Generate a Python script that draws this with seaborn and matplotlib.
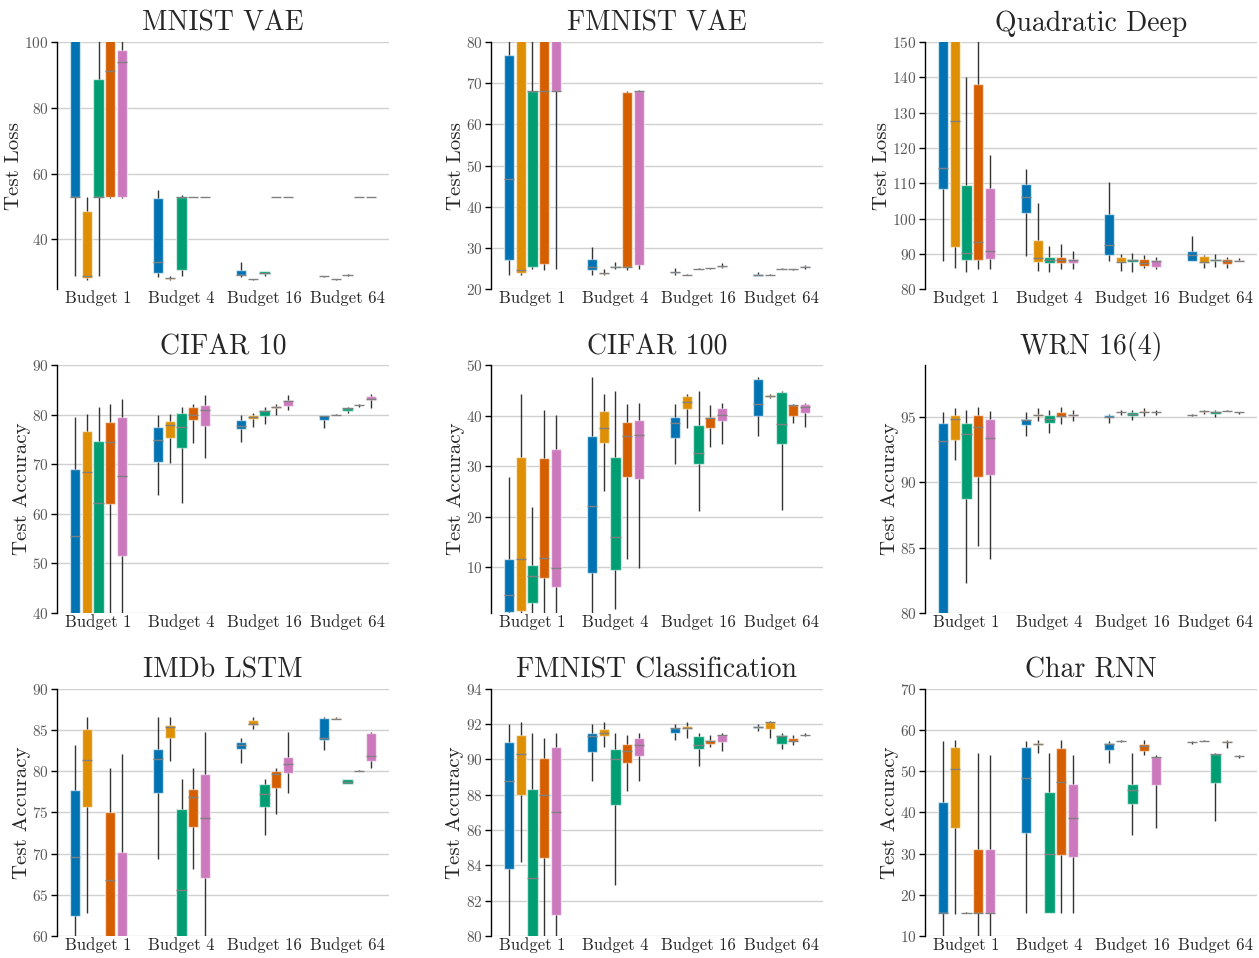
import matplotlib
matplotlib.use("Agg")
import matplotlib.pyplot as plt
import numpy as np
import pandas as pd
import seaborn as sns

budgets = ["Budget 1", "Budget 4", "Budget 16", "Budget 64"]
methods = ["m1", "m2", "m3", "m4", "m5"]
palette = ["#0173b2", "#de8f05", "#029e73", "#d55e00", "#cc78bc"]

# five-number summaries [min, q1, median, q3, max], budget-major then method
mnist_vae = [
    [28.8, 53.0, 53.0, 130.0, 140.0], [27.6, 28.3, 28.8, 48.6, 53.0],
    [28.8, 53.0, 53.0, 88.8, 110.0], [52.6, 53.0, 91.2, 120.0, 130.0],
    [52.6, 53.0, 93.9, 97.7, 110.0],
    [28.6, 29.8, 33.2, 52.6, 55.0], [27.6, 28.0, 28.1, 28.2, 28.9],
    [28.8, 30.5, 52.8, 52.8, 53.5], [52.9, 52.9, 52.9, 52.9, 52.9],
    [52.9, 52.9, 52.9, 52.9, 52.9],
    [28.4, 29.0, 29.2, 30.7, 33.2], [27.7, 27.8, 27.8, 27.8, 27.9],
    [28.8, 29.4, 29.8, 30.2, 30.4], [52.9, 52.9, 52.9, 52.9, 52.9],
    [52.9, 52.9, 52.9, 52.9, 52.9],
    [28.5, 28.7, 28.7, 28.8, 28.9], [27.7, 27.8, 27.8, 27.8, 27.9],
    [28.9, 29.0, 29.1, 29.2, 29.4], [52.9, 52.9, 52.9, 52.9, 52.9],
    [52.9, 52.9, 52.9, 52.9, 52.9],
]
fmnist_vae = [
    [23.4, 27.0, 46.7, 76.8, 85.0], [23.4, 24.0, 24.6, 85.0, 90.0],
    [24.9, 25.5, 68.0, 68.2, 85.0], [24.7, 26.2, 68.2, 85.0, 90.0],
    [25.0, 68.2, 68.2, 85.0, 90.0],
    [23.4, 24.7, 25.3, 27.3, 30.2], [23.4, 23.7, 23.9, 24.0, 24.9],
    [25.0, 25.3, 25.5, 25.7, 26.7], [24.7, 25.4, 25.5, 67.9, 68.2],
    [25.0, 25.9, 68.0, 68.2, 68.3],
    [23.4, 23.9, 24.1, 24.3, 25.1], [23.4, 23.5, 23.5, 23.5, 23.6],
    [24.9, 25.0, 25.0, 25.0, 25.1], [25.0, 25.1, 25.1, 25.1, 25.2],
    [25.1, 25.4, 25.6, 25.7, 26.3],
    [23.2, 23.3, 23.5, 23.7, 24.2], [23.4, 23.5, 23.5, 23.5, 23.6],
    [24.8, 24.9, 24.9, 24.9, 25.1], [24.7, 24.8, 24.8, 24.8, 24.9],
    [25.0, 25.3, 25.4, 25.6, 25.8],
]
quadratic_deep = [
    [87.9, 108.5, 114.3, 160.0, 170.0], [86.0, 92.0, 127.6, 160.0, 170.0],
    [85.0, 88.3, 90.2, 109.5, 140.1], [85.7, 88.3, 93.3, 138.2, 155.0],
    [85.7, 88.5, 90.8, 108.7, 118.1],
    [89.5, 101.6, 106.2, 109.9, 114.0], [85.3, 87.7, 88.8, 94.0, 104.3],
    [85.0, 87.4, 88.3, 89.2, 92.1], [85.7, 87.4, 88.3, 89.2, 92.8],
    [85.7, 87.5, 88.2, 88.7, 90.9],
    [87.9, 89.8, 92.4, 101.2, 110.3], [85.3, 87.6, 87.7, 89.0, 90.0],
    [85.0, 87.6, 88.3, 88.7, 90.2], [86.0, 86.7, 87.4, 88.5, 89.6],
    [85.7, 86.4, 88.1, 88.3, 89.1],
    [87.9, 88.1, 89.8, 90.7, 95.0], [86.0, 87.4, 87.6, 89.5, 89.8],
    [86.4, 88.0, 88.3, 88.7, 90.0], [86.0, 87.2, 87.9, 88.5, 89.1],
    [87.9, 88.0, 88.1, 88.2, 88.8],
]
cifar10 = [
    [30.0, 35.0, 55.4, 69.1, 79.5], [30.0, 35.0, 68.4, 76.7, 80.1],
    [30.0, 35.0, 62.2, 74.8, 81.5], [30.0, 62.0, 74.6, 78.6, 82.2],
    [30.0, 51.5, 67.6, 79.5, 83.3],
    [63.7, 70.5, 75.0, 77.5, 80.0], [70.3, 75.4, 77.9, 78.7, 80.1],
    [62.1, 73.3, 77.5, 80.4, 81.5], [74.4, 78.9, 80.0, 81.5, 82.2],
    [71.2, 77.7, 80.9, 82.0, 84.1],
    [74.6, 77.1, 77.7, 78.9, 80.0], [77.5, 79.2, 79.6, 80.0, 80.3],
    [78.2, 79.8, 80.7, 81.0, 81.5], [80.0, 81.3, 81.6, 81.8, 82.2],
    [81.0, 81.8, 82.7, 82.9, 84.1],
    [77.4, 79.0, 79.8, 79.9, 80.0], [79.9, 80.0, 80.0, 80.0, 80.1],
    [80.4, 80.8, 81.3, 81.4, 81.5], [81.5, 81.9, 81.9, 81.9, 82.2],
    [81.4, 82.9, 83.3, 83.9, 84.2],
]
cifar100 = [
    [0.5, 1.2, 4.4, 11.7, 27.9], [0.5, 1.4, 11.7, 31.8, 44.4],
    [0.5, 3.0, 8.3, 10.5, 21.9], [0.5, 7.8, 11.8, 31.7, 41.2],
    [0.5, 6.0, 9.8, 33.5, 40.1],
    [0.5, 8.8, 22.2, 36.1, 47.6], [25.1, 34.6, 37.6, 41.0, 44.4],
    [1.7, 9.4, 15.9, 31.8, 45.0], [11.7, 27.8, 36.0, 38.8, 42.3],
    [9.8, 27.5, 36.3, 39.2, 42.5],
    [30.5, 35.7, 38.5, 39.8, 42.4], [37.6, 41.3, 42.7, 43.9, 44.4],
    [21.2, 30.4, 32.6, 38.2, 45.0], [33.9, 37.5, 39.5, 39.8, 42.2],
    [34.4, 38.9, 40.1, 41.6, 42.5],
    [36.1, 40.0, 42.4, 47.4, 47.6], [43.6, 43.8, 44.0, 44.1, 44.4],
    [21.3, 34.5, 38.4, 44.8, 45.0], [38.6, 39.9, 42.1, 42.1, 42.3],
    [37.8, 40.5, 41.7, 42.4, 42.5],
]
wrn_16_4 = [
    [70.0, 75.0, 93.2, 94.6, 95.4], [91.7, 93.3, 94.9, 95.2, 95.7],
    [82.3, 88.7, 93.7, 94.6, 95.6], [85.1, 90.4, 94.3, 95.2, 95.8],
    [84.1, 90.6, 93.4, 94.9, 95.5],
    [93.6, 94.4, 94.8, 94.9, 95.4], [94.7, 95.1, 95.2, 95.3, 95.7],
    [93.8, 94.6, 94.9, 95.2, 95.6], [94.5, 95.0, 95.1, 95.4, 95.8],
    [94.7, 95.1, 95.2, 95.3, 95.6],
    [94.6, 95.0, 95.05, 95.2, 95.3], [95.2, 95.4, 95.4, 95.4, 95.6],
    [94.8, 95.1, 95.3, 95.4, 95.6], [95.1, 95.4, 95.45, 95.5, 95.7],
    [95.2, 95.4, 95.4, 95.4, 95.6],
    [95.1, 95.2, 95.2, 95.2, 95.25], [95.3, 95.4, 95.5, 95.5, 95.55],
    [95.0, 95.3, 95.4, 95.5, 95.6], [95.5, 95.5, 95.5, 95.5, 95.55],
    [95.3, 95.4, 95.4, 95.4, 95.45],
]
imdb_lstm = [
    [55.0, 62.4, 69.6, 77.7, 83.2], [62.8, 75.6, 81.4, 85.1, 86.6],
    [50.0, 52.0, 54.0, 56.0, 58.0], [50.0, 55.0, 66.8, 75.0, 80.4],
    [50.0, 55.0, 58.0, 70.2, 82.1],
    [69.4, 77.3, 81.5, 82.7, 86.6], [81.2, 84.0, 85.4, 85.6, 86.6],
    [50.0, 55.0, 65.6, 75.4, 79.1], [68.1, 73.2, 76.9, 77.8, 80.4],
    [58.0, 67.0, 74.3, 79.6, 84.8],
    [81.0, 82.7, 83.2, 83.6, 84.0], [85.1, 85.6, 85.7, 86.2, 86.6],
    [72.3, 75.6, 77.2, 78.4, 79.1], [74.8, 78.0, 79.6, 80.0, 80.4],
    [77.4, 79.8, 80.9, 81.7, 84.8],
    [82.6, 83.8, 84.0, 86.4, 86.6], [86.3, 86.3, 86.35, 86.4, 86.6],
    [78.4, 78.5, 78.7, 79.0, 79.1], [80.0, 80.0, 80.0, 80.0, 80.1],
    [80.4, 81.2, 81.8, 84.6, 84.7],
]
fmnist_clf = [
    [79.0, 83.8, 88.8, 91.0, 92.0], [84.2, 88.0, 90.3, 91.4, 92.1],
    [75.0, 78.0, 83.3, 88.3, 91.5], [79.0, 84.4, 88.0, 90.1, 91.2],
    [79.0, 81.2, 87.0, 90.7, 91.5],
    [88.8, 90.4, 91.3, 91.5, 92.0], [90.7, 91.3, 91.5, 91.7, 92.1],
    [82.9, 87.4, 90.0, 90.6, 91.5], [88.2, 89.8, 90.5, 90.9, 91.4],
    [88.8, 90.2, 90.8, 91.2, 91.5],
    [91.1, 91.5, 91.8, 91.8, 92.0], [91.2, 91.7, 91.75, 91.9, 92.1],
    [89.6, 90.6, 90.8, 91.3, 91.5], [90.7, 90.9, 91.05, 91.1, 91.4],
    [90.5, 91.0, 91.4, 91.4, 91.5],
    [91.6, 91.75, 91.85, 91.9, 92.0], [91.2, 91.7, 92.1, 92.1, 92.15],
    [90.6, 90.9, 91.3, 91.4, 91.5], [90.8, 91.05, 91.05, 91.2, 91.4],
    [91.35, 91.4, 91.4, 91.4, 91.5],
]
char_rnn = [
    [5.0, 15.7, 15.7, 42.6, 57.4], [15.3, 36.1, 50.5, 55.8, 57.6],
    [15.6, 15.7, 15.7, 15.7, 15.8], [5.0, 15.7, 15.7, 31.1, 54.5],
    [5.0, 15.7, 15.7, 31.2, 54.0],
    [15.5, 35.0, 48.4, 55.8, 57.4], [54.5, 56.3, 56.6, 56.8, 57.6],
    [15.5, 15.7, 29.8, 44.9, 54.4], [15.5, 29.7, 47.4, 55.6, 57.6],
    [15.5, 29.1, 38.6, 46.9, 54.0],
    [52.1, 55.1, 56.7, 56.8, 57.4], [57.0, 57.4, 57.4, 57.4, 57.6],
    [34.4, 42.1, 45.4, 46.9, 54.4], [54.0, 55.0, 56.0, 56.6, 57.6],
    [36.3, 46.6, 53.5, 53.5, 54.0],
    [56.6, 57.2, 57.2, 57.2, 57.4], [57.3, 57.4, 57.4, 57.4, 57.5],
    [37.8, 47.1, 54.2, 54.2, 54.4], [55.7, 57.0, 57.2, 57.3, 57.6],
    [53.3, 53.8, 53.8, 53.8, 54.0],
]

titles = ["MNIST VAE", "FMNIST VAE", "Quadratic Deep",
          "CIFAR 10", "CIFAR 100", "WRN 16(4)",
          "IMDb LSTM", "FMNIST Classification", "Char RNN"]
summaries = [mnist_vae, fmnist_vae, quadratic_deep,
             cifar10, cifar100, wrn_16_4,
             imdb_lstm, fmnist_clf, char_rnn]
ylabels = ["Test Loss"] * 3 + ["Test Accuracy"] * 6
ylims = [(24.8, 100), (20, 80), (80, 150),
         (40, 90), (1, 50), (80, 99),
         (60, 90), (80, 94), (10, 70)]
yticks = [[40, 60, 80, 100], [20, 30, 40, 50, 60, 70, 80],
          [80, 90, 100, 110, 120, 130, 140, 150],
          [40, 50, 60, 70, 80, 90], [10, 20, 30, 40, 50], [80, 85, 90, 95],
          [60, 65, 70, 75, 80, 85, 90], [80, 82, 84, 86, 88, 90, 92, 94],
          [10, 20, 30, 40, 50, 60, 70]]


def to_frame(summary):
    rows = []
    for i, five in enumerate(summary):
        for v in five:
            rows.append((budgets[i // 5], methods[i % 5], v))
    return pd.DataFrame(rows, columns=["budget", "method", "value"])


sns.set_theme(style="whitegrid")
plt.rcParams["font.family"] = ["cmr10", "DejaVu Serif"]
plt.rcParams["axes.formatter.use_mathtext"] = True
plt.rcParams["mathtext.fontset"] = "cm"

fig, axes = plt.subplots(3, 3, figsize=(12.59, 9.58), dpi=100)
fig.subplots_adjust(left=57 / 1259, right=1257 / 1259, top=1 - 42 / 958,
                    bottom=1 - 936 / 958, wspace=0.307, hspace=0.308)

for ax, title, summary, ylabel, ylim, ticks in zip(
        axes.flat, titles, summaries, ylabels, ylims, yticks):
    df = to_frame(summary)
    sns.boxplot(data=df, x="budget", y="value", hue="method",
                order=budgets, hue_order=methods, palette=palette,
                saturation=1, width=0.7, gap=0.12, whis=(0, 100),
                showfliers=False, showcaps=False, linewidth=1,
                boxprops=dict(edgecolor=(1, 1, 1, 0.6)),
                medianprops=dict(color="grey"),
                whiskerprops=dict(color="0.2"),
                legend=False, ax=ax)
    ax.set_xlim(-0.5, 3.5)
    ax.set_ylim(*ylim)
    ax.set_yticks(ticks)
    ax.set_title(title, fontsize=20, pad=8)
    ax.set_xlabel("")
    ax.set_ylabel(ylabel, fontsize=15, labelpad=1)
    ax.xaxis.grid(False)
    ax.yaxis.grid(True, color="#d0d0d0", linewidth=1)
    for side in ["top", "right", "bottom"]:
        ax.spines[side].set_visible(False)
    ax.spines["left"].set_color("black")
    ax.spines["left"].set_linewidth(1)
    ax.tick_params(axis="y", left=True, length=4, width=1, color="black",
                   labelsize=11, labelcolor="0.35", pad=2)
    ax.tick_params(axis="x", bottom=False, length=0, labelsize=12, pad=1)

fig.savefig("out.png", dpi=100)
